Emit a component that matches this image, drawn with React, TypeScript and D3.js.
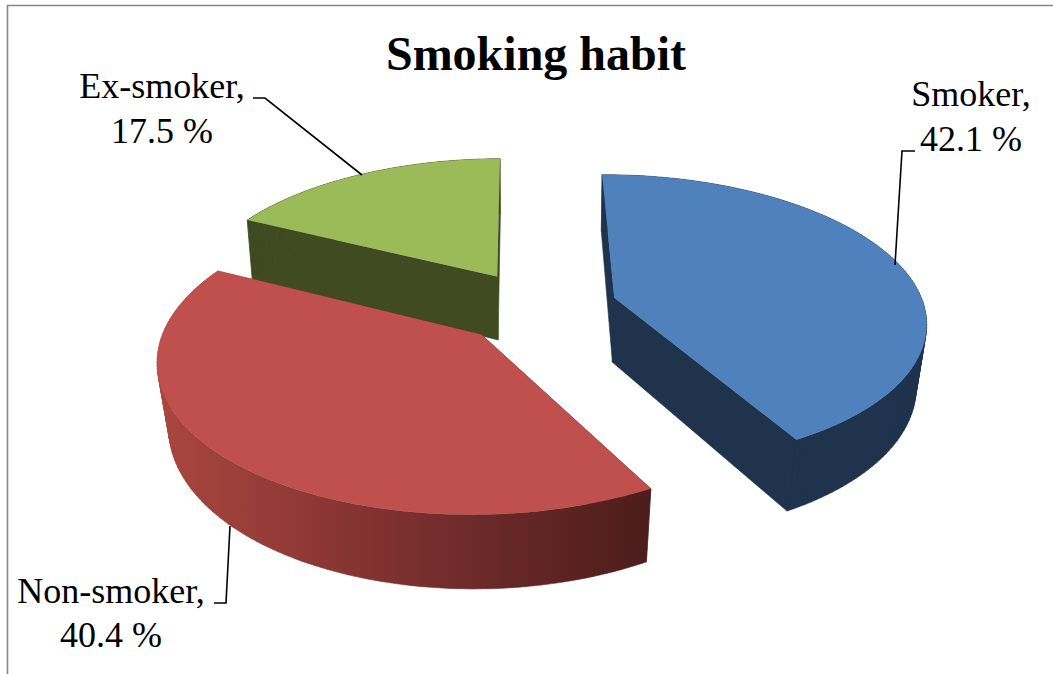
import React from "react";
import * as d3 from "d3";

const categories = ["Smoker", "Non-smoker", "Ex-smoker"];
const shares = [42.1, 40.4, 17.5];
const topColors = ["#4F81BD", "#C0504D", "#9BBB59"];
const sideColors = ["#1F334D", "url(#redWall)", "#404B22"];
const drawOrder = [2, 0, 1];

const W = 1053;
const H = 674;

// Ground-plane camera: x/y are lengths in pie radii, the wall height is in pixels.
const centre = { x: 538, y: 307 };
const radiusX = 310;
const radiusY = 144;
const perspective = 0.15;
const explode = 0.257;
const wallHeight = 65;
const tilt = (-0.5 * Math.PI) / 180;

type P = [number, number];

function project(u: number, v: number, low: boolean): P {
  const w = 1 - perspective * v;
  const x = centre.x + (radiusX * u) / w;
  const y = centre.y + (radiusY * v) / w;
  if (!low) return [x, y];
  const shrink = 0.974 - 0.013 * v;
  return [centre.x + (x - centre.x) * shrink, y + wallHeight * (1 + 0.12 * v)];
}

const pieLayout = d3
  .pie<number>()
  .sort(null)
  .startAngle(tilt)
  .endAngle(tilt + 2 * Math.PI)
  .value((d) => d);

const outline = d3
  .line<P>()
  .x((d) => d[0])
  .y((d) => d[1]);

function closed(points: P[]) {
  return outline(points) + "Z";
}

// All quads wound the same way, so they merge into one solid shape under the nonzero rule.
function windingSafe(q: P[]) {
  return closed(d3.polygonArea(q) < 0 ? [...q].reverse() : q);
}

function slicePaths(startAngle: number, endAngle: number) {
  const mid = (startAngle + endAngle) / 2;
  const ou = explode * Math.sin(mid);
  const ov = -explode * Math.cos(mid);
  const angles = d3.range(0, 121).map((i) => startAngle + ((endAngle - startAngle) * i) / 120);
  const rim = (low: boolean) =>
    angles.map((a) => project(ou + Math.sin(a), ov - Math.cos(a), low));
  const apexTop = project(ou, ov, false);
  const apexLow = project(ou, ov, true);
  const rimTop = rim(false);
  const rimLow = rim(true);
  const wall = d3
    .range(0, 120)
    .map((i) => windingSafe([rimTop[i], rimTop[i + 1], rimLow[i + 1], rimLow[i]]))
    .join("");
  const faces =
    windingSafe([apexTop, rimTop[0], rimLow[0], apexLow]) +
    windingSafe([apexTop, rimTop[120], rimLow[120], apexLow]);
  return { top: closed([apexTop, ...rimTop]), sides: faces + wall };
}

const labelStyle: React.CSSProperties = {
  fontFamily: "'Liberation Serif', 'Times New Roman', serif",
  fontSize: 36,
  fill: "#000",
};

const labels = [
  { lines: [`${categories[0]},`, `${shares[0]} %`], x: 971, y: [106, 151], leader: [[915, 151], [902, 151], [895, 265]] as P[] },
  { lines: [`${categories[1]},`, `${shares[1]} %`], x: 111, y: [603, 647], leader: [[214, 603], [226, 603], [230, 526]] as P[] },
  { lines: [`${categories[2]},`, `${shares[2]} %`], x: 162, y: [98, 143], leader: [[253, 98], [265, 98], [362, 175]] as P[] },
];

export default function App() {
  const arcs = pieLayout(shares);
  return (
    <svg
      width={W}
      height={H}
      viewBox={`0 0 ${W} ${H}`}
      style={{ position: "fixed", left: 0, top: 0, background: "#fff" }}
    >
      <defs>
        <linearGradient id="redWall" gradientUnits="userSpaceOnUse" x1={160} x2={650} y1={0} y2={0}>
          <stop offset="0" stopColor="#A8473F" />
          <stop offset="0.3" stopColor="#8F3836" />
          <stop offset="0.65" stopColor="#6B2A29" />
          <stop offset="1" stopColor="#4C1D1B" />
        </linearGradient>
      </defs>

      <path d="M7.5,674V5.5H1053" fill="none" stroke="#868686" strokeWidth={1.6} />

      <text
        x={536}
        y={70}
        textAnchor="middle"
        style={{ fontFamily: labelStyle.fontFamily, fontSize: 48, fontWeight: 700, fill: "#000" }}
      >
        Smoking habit
      </text>

      {drawOrder.map((i) => {
        const p = slicePaths(arcs[i].startAngle, arcs[i].endAngle);
        return (
          <g key={categories[i]}>
            <path d={p.sides} fill={sideColors[i]} stroke={sideColors[i]} strokeWidth={0.6} />
            <path d={p.top} fill={topColors[i]} />
          </g>
        );
      })}

      {labels.map((l) => (
        <g key={l.lines[0]}>
          <path d={outline(l.leader) ?? ""} fill="none" stroke="#000" strokeWidth={1.6} />
          {l.lines.map((t, j) => (
            <text key={t} x={l.x} y={l.y[j]} textAnchor="middle" style={labelStyle}>
              {t}
            </text>
          ))}
        </g>
      ))}
    </svg>
  );
}
